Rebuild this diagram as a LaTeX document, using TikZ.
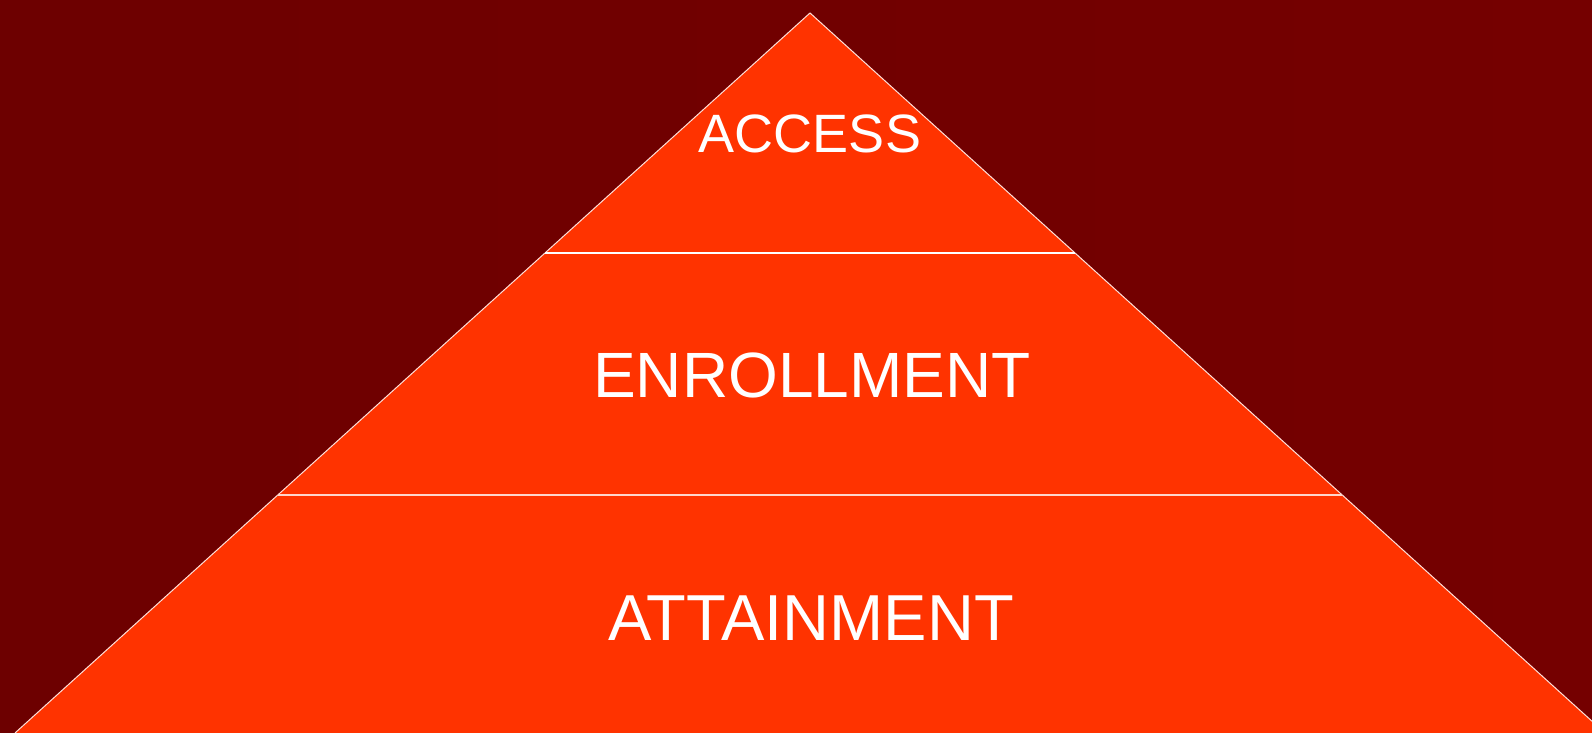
\documentclass[tikz,border=0pt]{standalone}
\usepackage{fontspec}
\setmainfont{Liberation Sans}
\definecolor{bgdark}{HTML}{6D0000}
\definecolor{bgright}{HTML}{750000}
\definecolor{pyr}{HTML}{FF3300}
\begin{document}
\begin{tikzpicture}[x=1pt,y=1pt,
  lbl/.style={text=white,anchor=base,inner sep=0pt},
  divider/.style={draw=white,line width=1.6pt},
  edge/.style={draw=white!85!pyr,line width=1pt}]
\useasboundingbox (0,0) rectangle (1592,733);
\shade[left color=bgdark,right color=bgright] (0,0) rectangle (1592,733);
\begin{scope}
\clip (0,0) rectangle (1592,733);
\coordinate (apex) at (810,720);
\coordinate (bl) at (15,0);
\coordinate (br) at (1605,0);
\fill[pyr] (bl) -- (apex) -- (br) -- cycle;
\draw[edge] (bl) -- (apex) -- (br);
\coordinate (d1l) at (545,480);
\coordinate (d1r) at (1075,480);
\coordinate (d2l) at (278,238);
\coordinate (d2r) at (1342,238);
\draw[divider] (d1l) -- (d1r);
\draw[divider,draw=white!80!pyr] (d2l) -- (d2r);
\end{scope}
\node[lbl,font=\fontsize{54}{54}\selectfont] (access) at (810,580) {ACCESS};
\node[lbl,font=\fontsize{64}{64}\selectfont] (enroll) at (812,335) {ENROLLMENT};
\node[lbl,font=\fontsize{65}{65}\selectfont] (attain) at (811,92) {ATTAINMENT};
\end{tikzpicture}
\end{document}
